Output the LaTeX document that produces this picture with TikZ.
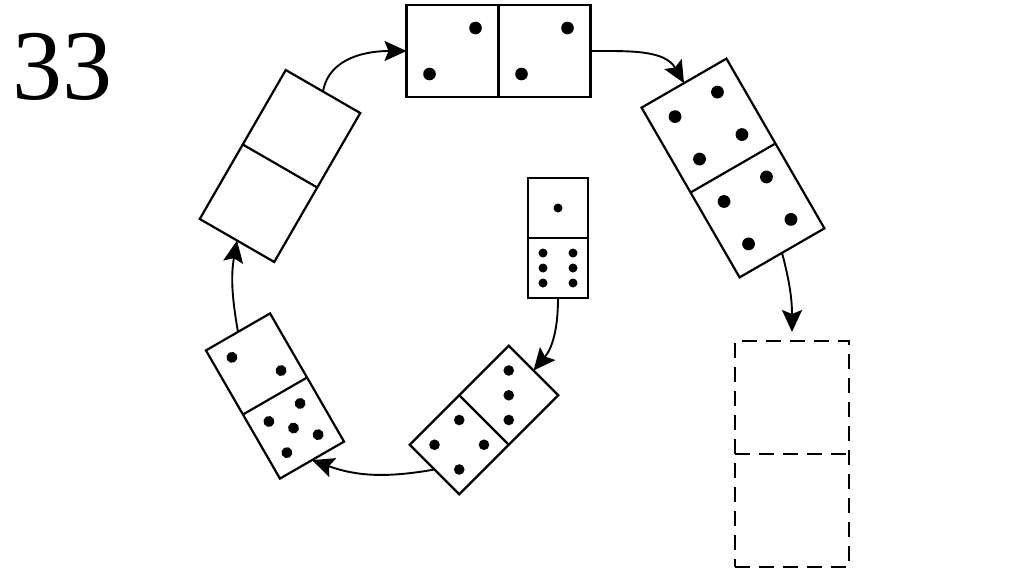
\documentclass[tikz,border=0pt]{standalone}
\usepackage{fontspec}
\setmainfont{Liberation Serif}
\usetikzlibrary{arrows.meta}
\begin{document}
\begin{tikzpicture}[x=1pt,y=1pt,
  domino/.style={draw, line width=2.2pt, rectangle, inner sep=0pt, outer sep=0pt,
    minimum width=#1, minimum height=2*#1},
  ghost/.style={draw, line width=2.2pt, dash pattern=on 15pt off 9pt, rectangle,
    inner sep=0pt, outer sep=0pt, minimum width=114, minimum height=226},
  divider/.style={line width=2.2pt},
  arr/.style={line width=1.9pt, -{Stealth[length=22pt,width=20pt,inset=4pt]}}
]
\useasboundingbox (0,0) rectangle (1024,-574);

\node[anchor=base west, inner sep=0pt, font=\fontsize{100}{100}\selectfont] (num) at (12,-99) {33};

% D1 top horizontal 2|2
\node[domino=92, rotate=90] (d1) at (498.5,-51) {};
\draw[divider] (d1.west) -- (d1.east);
\begin{scope}[shift={(d1.center)}, rotate=90]
  \foreach \p in {(-23,69),(23,23),(-23,-23),(23,-69)} \fill \p circle[radius=6.3];
\end{scope}

% D2 right 4|4
\node[domino=98, rotate=30] (d2) at (733,-168) {};
\draw[divider] (d2.west) -- (d2.east);
\begin{scope}[shift={(d2.center)}, rotate=30]
  \foreach \p in {(-24.5,73.5),(24.5,73.5),(-24.5,24.5),(24.5,24.5),
                  (-24.5,-24.5),(24.5,-24.5),(-24.5,-73.5),(24.5,-73.5)} \fill \p circle[radius=6.4];
\end{scope}

% D3 left blank
\node[domino=86, rotate=-30] (d3) at (280,-166) {};
\draw[divider] (d3.west) -- (d3.east);

% D4 left bottom 2|5
\node[domino=74, rotate=30] (d4) at (275,-396) {};
\draw[divider] (d4.west) -- (d4.east);
\begin{scope}[shift={(d4.center)}, rotate=30]
  \foreach \p in {(-18,55),(18,19),(-18,-19),(18,-19),(0,-37),(-18,-55),(18,-55)} \fill \p circle[radius=5.5];
\end{scope}

% D5 bottom 3|4
\node[domino=70, rotate=-45] (d5) at (484,-420) {};
\draw[divider] (d5.west) -- (d5.east);
\begin{scope}[shift={(d5.center)}, rotate=-45]
  \foreach \p in {(-17.5,52.5),(0,35),(17.5,17.5),
                  (-17.5,-17.5),(17.5,-17.5),(-17.5,-52.5),(17.5,-52.5)} \fill \p circle[radius=5.3];
\end{scope}

% D6 centre 1|6
\node[domino=60] (d6) at (558,-238) {};
\draw[divider] (d6.west) -- (d6.east);
\begin{scope}[shift={(d6.center)}]
  \foreach \p in {(0,30),(-15,-15),(15,-15),(-15,-30),(15,-30),(-15,-45),(15,-45)} \fill \p circle[radius=4.5];
\end{scope}

% D7 dashed
\node[ghost] (d7) at (792,-454) {};
\draw[line width=2.2pt, dash pattern=on 15pt off 9pt] (d7.west) -- (d7.east);

% arrows
\draw[arr] (d3.north) to[out=80,in=180] (d1.north);
\draw[arr] (d1.south) to[out=0,in=120] (d2.north);
\draw[arr] (d2.south) to[out=-75,in=90] ([yshift=9pt]d7.north);
\draw[arr] (d6.south) to[out=-90,in=50] (d5.north);
\draw[arr] (d5.south) to[out=190,in=-20] (d4.south);
\draw[arr] (d4.north) to[out=100,in=-100] (d3.south);
\end{tikzpicture}
\end{document}
